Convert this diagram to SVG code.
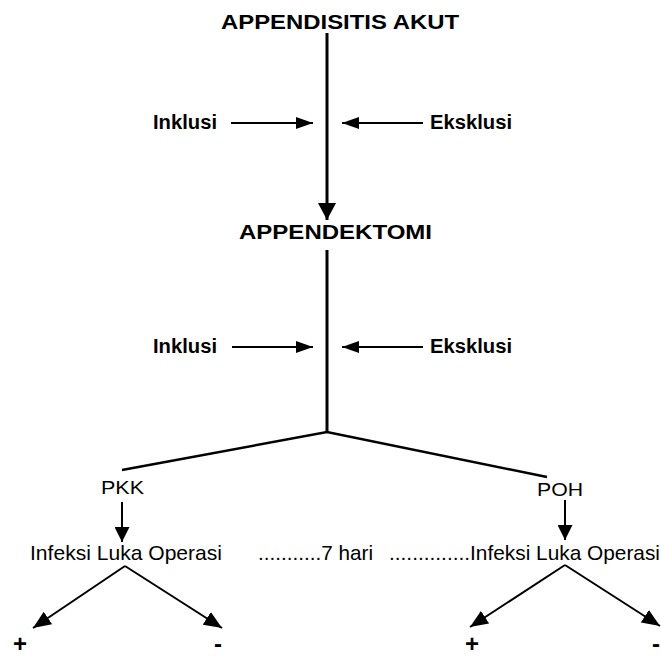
<svg xmlns="http://www.w3.org/2000/svg" width="661" height="657" viewBox="0 0 661 657">
  <style>
    .bold { font-family: "Liberation Sans", Arial, sans-serif; font-weight: bold; fill: #000; }
    .reg { font-family: "Liberation Sans", Arial, sans-serif; fill: #000; }
    .sign { font-family: "Liberation Sans", Arial, sans-serif; font-size: 24px; font-weight: bold; fill: #000; }
    .line { stroke: #000; fill: none; }
  </style>
  <defs>
    <marker id="ahBig" markerUnits="userSpaceOnUse" markerWidth="17" markerHeight="18" refX="17" refY="9" orient="auto">
      <path d="M0,0 L17,9 L0,18 z" fill="#000"/>
    </marker>
    <marker id="ahSide" markerUnits="userSpaceOnUse" markerWidth="17" markerHeight="12" refX="17" refY="6" orient="auto">
      <path d="M0,0 L17,6 L0,12 z" fill="#000"/>
    </marker>
    <marker id="ahMid" markerUnits="userSpaceOnUse" markerWidth="15" markerHeight="15" refX="15" refY="7.5" orient="auto">
      <path d="M0,0 L15,7.5 L0,15 z" fill="#000"/>
    </marker>
    <marker id="ahDiag" markerUnits="userSpaceOnUse" markerWidth="18" markerHeight="15" refX="18" refY="7.5" orient="auto">
      <path d="M0,0 L18,7.5 L0,15 z" fill="#000"/>
    </marker>
  </defs>
  <rect width="661" height="657" fill="#fff"/>

  <g id="connectors">
    <line class="line" x1="327" y1="33" x2="327" y2="220" stroke-width="3" marker-end="url(#ahBig)"/>
    <line class="line" x1="231" y1="123" x2="313" y2="123" stroke-width="2" marker-end="url(#ahSide)"/>
    <line class="line" x1="423" y1="123" x2="342" y2="123" stroke-width="2" marker-end="url(#ahSide)"/>
    <line class="line" x1="327" y1="250" x2="327" y2="432" stroke-width="3"/>
    <line class="line" x1="232" y1="347" x2="313" y2="347" stroke-width="2" marker-end="url(#ahSide)"/>
    <line class="line" x1="423" y1="347" x2="342" y2="347" stroke-width="2" marker-end="url(#ahSide)"/>
    <polyline class="line" points="122,470 327,432 547,477" stroke-width="2.5"/>
    <line class="line" x1="122" y1="502" x2="122" y2="542" stroke-width="2" marker-end="url(#ahMid)"/>
    <line class="line" x1="565" y1="500" x2="565" y2="540" stroke-width="2" marker-end="url(#ahMid)"/>
    <line class="line" x1="125" y1="566" x2="33" y2="628" stroke-width="2" marker-end="url(#ahDiag)"/>
    <line class="line" x1="125" y1="566" x2="222" y2="628" stroke-width="2" marker-end="url(#ahDiag)"/>
    <line class="line" x1="565" y1="565" x2="470" y2="627" stroke-width="2" marker-end="url(#ahDiag)"/>
    <line class="line" x1="565" y1="565" x2="660" y2="626" stroke-width="2" marker-end="url(#ahDiag)"/>
  </g>

  <g id="node-appendisitis">
    <text class="bold" x="221" y="29" font-size="21" textLength="238" lengthAdjust="spacingAndGlyphs">APPENDISITIS AKUT</text>
  </g>
  <g id="node-inklusi1">
    <text class="bold" x="153" y="129" font-size="20" textLength="64" lengthAdjust="spacingAndGlyphs">Inklusi</text>
  </g>
  <g id="node-eksklusi1">
    <text class="bold" x="430" y="129" font-size="20" textLength="82" lengthAdjust="spacingAndGlyphs">Eksklusi</text>
  </g>
  <g id="node-appendektomi">
    <text class="bold" x="239" y="239" font-size="21" textLength="193" lengthAdjust="spacingAndGlyphs">APPENDEKTOMI</text>
  </g>
  <g id="node-inklusi2">
    <text class="bold" x="153" y="353" font-size="20" textLength="64" lengthAdjust="spacingAndGlyphs">Inklusi</text>
  </g>
  <g id="node-eksklusi2">
    <text class="bold" x="430" y="353" font-size="20" textLength="82" lengthAdjust="spacingAndGlyphs">Eksklusi</text>
  </g>
  <g id="node-pkk">
    <text class="reg" x="101" y="494" font-size="19" textLength="43" lengthAdjust="spacingAndGlyphs">PKK</text>
  </g>
  <g id="node-poh">
    <text class="reg" x="537" y="496" font-size="19" textLength="46" lengthAdjust="spacingAndGlyphs">POH</text>
  </g>
  <g id="node-ilo1">
    <text class="reg" x="30" y="560" font-size="21" textLength="192" lengthAdjust="spacingAndGlyphs">Infeksi Luka Operasi</text>
  </g>
  <g id="node-7hari">
    <text class="reg" x="258" y="560" font-size="21" textLength="115" lengthAdjust="spacingAndGlyphs">...........7 hari</text>
  </g>
  <g id="node-ilo2">
    <text class="reg" x="389" y="560" font-size="21" textLength="271" lengthAdjust="spacingAndGlyphs">..............Infeksi Luka Operasi</text>
  </g>
  <g id="node-plus1">
    <text class="sign" x="13" y="652">+</text>
  </g>
  <g id="node-minus1">
    <text class="sign" x="214" y="652">-</text>
  </g>
  <g id="node-plus2">
    <text class="sign" x="465" y="652">+</text>
  </g>
  <g id="node-minus2">
    <text class="sign" x="652" y="652">-</text>
  </g>
</svg>
